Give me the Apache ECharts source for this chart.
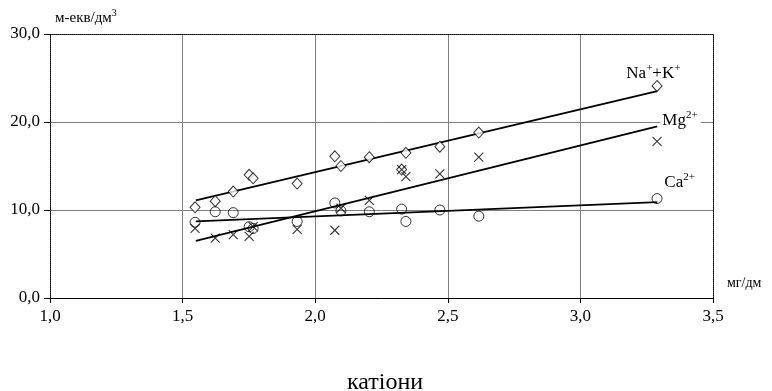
<!DOCTYPE html>
<html>
<head>
<meta charset="utf-8">
<script src="https://cdn.jsdelivr.net/npm/echarts@6/dist/echarts.min.js"></script>
<style>
  html, body { margin: 0; padding: 0; background: #fff; }
  #chart { width: 772px; height: 391px; }
</style>
</head>
<body>
<div id="chart"></div>
<script>
// точки проб: мінералізація (x) та катіони (y)
var xVals = [1.547, 1.623, 1.691, 1.751, 1.766, 1.932, 2.074, 2.097, 2.204, 2.326, 2.342, 2.470, 2.617, 3.289]
var naK = [10.3, 11.0, 12.1, 14.0, 13.6, 13.0, 16.1, 15.0, 16.0, 14.6, 16.5, 17.2, 18.8, 24.1]
var mg = [7.9, 6.8, 7.2, 7.0, 8.1, 7.8, 7.7, 10.2, 11.1, 14.6, 13.8, 14.1, 16.0, 17.8]
var ca = [8.6, 9.8, 9.7, 8.1, 7.9, 8.7, 10.8, 9.9, 9.8, 10.1, 8.7, 10.0, 9.3, 11.3]

// лінії тренду (кінці)
var trendX = [1.55, 3.29]
var naKTrend = [11.1, 23.5]
var mgTrend = [6.5, 19.5]
var caTrend = [8.7, 10.9]

var xTicks = ['1,0', '1,5', '2,0', '2,5', '3,0', '3,5']

var font = '"Liberation Serif", "Times New Roman", serif'

function pairs(xs, ys) {
  return xs.map(function(x, i) { return [x, ys[i]] })
}

var supRich = {
  b: { fontFamily: font, fontSize: 17, color: '#000', lineHeight: 19, verticalAlign: 'bottom' },
  s: { fontFamily: font, fontSize: 11, color: '#000', lineHeight: 11, verticalAlign: 'top' }
}

function trend(name, ys, label) {
  return {
    name: name,
    type: 'line',
    data: pairs(trendX, ys),
    symbol: 'none',
    silent: true,
    z: 3,
    lineStyle: { color: '#000', width: 1.8 },
    endLabel: Object.assign({ show: true, distance: 5, rich: supRich }, label)
  }
}

var chart = echarts.init(document.getElementById('chart'))
chart.setOption({
  animation: false,
  title: {
    text: 'катіони',
    left: 342,
    top: 366,
    textStyle: { fontFamily: font, fontSize: 24, fontWeight: 'normal', color: '#000' }
  },
  grid: { left: 50, right: 59, top: 34, bottom: 93 },
  xAxis: [{
    type: 'value',
    min: 1,
    max: 3.5,
    interval: 0.5,
    name: 'мг/дм',
    nameLocation: 'end',
    nameGap: 14,
    nameTextStyle: { fontFamily: font, fontSize: 14, color: '#000', align: 'left', verticalAlign: 'bottom', padding: [0, 0, 8, 0] },
    axisLine: { lineStyle: { color: '#000', width: 1 } },
    axisTick: { show: true, inside: false, length: 5, lineStyle: { color: '#000' } },
    axisLabel: {
      margin: 10,
      fontFamily: font, fontSize: 17, color: '#000',
      formatter: function(v) { return xTicks[Math.round((v - 1) / 0.5)] }
    },
    splitLine: { show: true, lineStyle: { color: '#808080', width: 1 } }
  }, {
    type: 'value',
    position: 'top',
    min: 1,
    max: 3.5,
    axisLine: { show: true, onZero: false, lineStyle: { color: '#000', type: 'dotted' } },
    axisTick: { show: false },
    axisLabel: { show: false },
    splitLine: { show: false }
  }],
  yAxis: [{
    type: 'value',
    min: 0,
    max: 30,
    interval: 10,
    name: '{b|м-екв/дм}{s|3}',
    nameLocation: 'end',
    nameGap: 8,
    nameTextStyle: {
      align: 'left', padding: [0, 0, 0, 5],
      rich: {
        b: { fontFamily: font, fontSize: 15, color: '#000', lineHeight: 18, verticalAlign: 'bottom' },
        s: { fontFamily: font, fontSize: 10, color: '#000', lineHeight: 10, verticalAlign: 'top' }
      }
    },
    axisLine: { show: true, lineStyle: { color: '#000', type: 'dotted' } },
    axisTick: { show: true, inside: false, length: 6, lineStyle: { color: '#000' } },
    axisLabel: {
      margin: 10,
      fontFamily: font, fontSize: 17, color: '#000',
      formatter: function(v) { return v.toFixed(1).replace('.', ',') }
    },
    splitLine: { show: true, lineStyle: { color: '#808080', width: 1 } }
  }, {
    type: 'value',
    position: 'right',
    min: 0,
    max: 30,
    axisLine: { show: true, onZero: false, lineStyle: { color: '#000', type: 'dotted' } },
    axisTick: { show: false },
    axisLabel: { show: false },
    splitLine: { show: false }
  }],
  series: [
    trend('Na+K тренд', naKTrend, {
      offset: [-36, -19],
      formatter: '{b|Na}{s|+}{b|+K}{s|+}'
    }),
    trend('Mg тренд', mgTrend, {
      offset: [-2, -7],
      backgroundColor: '#fff', padding: [0, 3, 0, 2],
      formatter: '{b|Mg}{s|2+}'
    }),
    trend('Ca тренд', caTrend, {
      offset: [2, -21],
      formatter: '{b|Ca}{s|2+}'
    }),
    {
      name: 'Na+K',
      type: 'scatter',
      data: pairs(xVals, naK),
      symbol: 'diamond',
      symbolSize: [10, 11],
      z: 4,
      itemStyle: { color: '#fff', borderColor: '#000', borderWidth: 1 }
    },
    {
      name: 'Mg',
      type: 'scatter',
      data: pairs(xVals, mg),
      symbol: 'path://M0,0L10,10M10,0L0,10',
      symbolSize: 9,
      z: 4,
      itemStyle: { color: 'transparent', borderColor: '#000', borderWidth: 1.1 }
    },
    {
      name: 'Ca',
      type: 'scatter',
      data: pairs(xVals, ca),
      symbol: 'circle',
      symbolSize: 10,
      z: 4,
      itemStyle: { color: 'transparent', borderColor: '#000', borderWidth: 1 }
    }
  ]
})
</script>
</body>
</html>
